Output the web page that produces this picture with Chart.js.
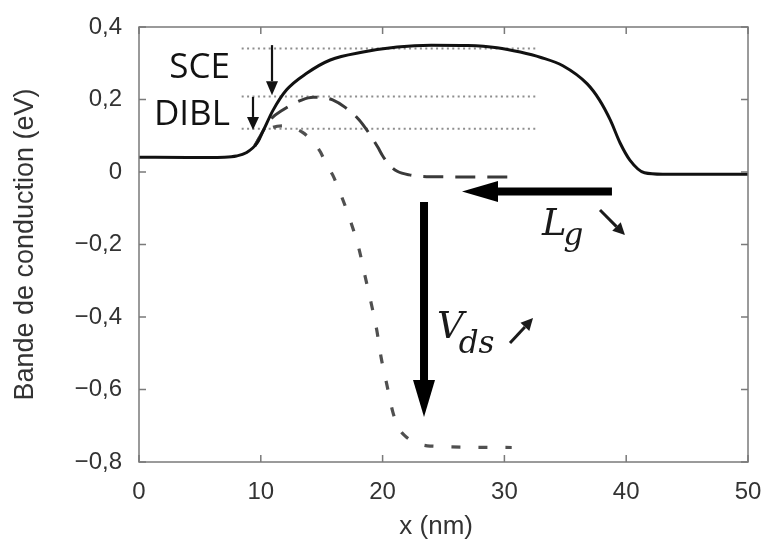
<!DOCTYPE html>
<html>
<head>
<meta charset="utf-8">
<script src="https://cdn.jsdelivr.net/npm/chart.js@4.4.1/dist/chart.umd.min.js"></script>
<style>
  html, body { margin: 0; padding: 0; background: #fff; }
  canvas { display: block; }
</style>
</head>
<body>
<canvas id="chart" width="768" height="546"></canvas>
<script>
// x positions (nm) and conduction band (eV)
const xSolid = [0, 4, 7, 8, 8.8, 9.7, 10.2, 11, 12.1, 13.8, 15.7, 18.4, 21.2, 24, 27, 29.4, 31.3, 33, 34.8, 36.8, 37.8, 38.7, 39.5, 40.3, 41.5, 43, 50];
const ySolid = [0.041, 0.040, 0.041, 0.044, 0.053, 0.080, 0.114, 0.170, 0.226, 0.273, 0.309, 0.331, 0.345, 0.350, 0.349, 0.343, 0.331, 0.316, 0.293, 0.243, 0.199, 0.143, 0.080, 0.033, -0.002, -0.006, -0.006];

const xLongDash = [9.5, 10.2, 10.8, 11.8, 13.4, 14.3, 15.2, 15.9, 16.9, 18.1, 18.7, 19.6, 20.0, 20.6, 21.2, 22.2, 23.9, 30.6];
const yLongDash = [0.072, 0.114, 0.145, 0.171, 0.199, 0.206, 0.205, 0.199, 0.179, 0.143, 0.116, 0.069, 0.045, 0.018, 0.002, -0.008, -0.013, -0.014];

const xShortDash = [9.5, 10.2, 11, 11.8, 12.4, 13.4, 14.3, 14.9, 15.4, 15.9, 16.64, 17.41, 18.06, 18.56, 19.05, 19.52, 19.87, 20.34, 20.83, 21.3, 21.84, 22.8, 23.9, 30.6];
const yShortDash = [0.072, 0.108, 0.123, 0.127, 0.124, 0.110, 0.083, 0.055, 0.019, -0.008, -0.068, -0.140, -0.212, -0.287, -0.360, -0.436, -0.510, -0.585, -0.661, -0.705, -0.728, -0.748, -0.756, -0.760];

// reference levels (dotted)
const refSpan = [8.43, 32.65];
const refLevels = [0.341, 0.208, 0.119];

const xTicks = [0, 10, 20, 30, 40, 50];
const yTicks = [-0.8, -0.6, -0.4, -0.2, 0, 0.2, 0.4];
const yTickLabels = ['\u22120,8', '\u22120,6', '\u22120,4', '\u22120,2', '0', '0,2', '0,4'];

const toPoints = (xs, ys) => xs.map((x, i) => ({ x: x, y: ys[i] }));

const datasets = [
  {
    data: toPoints(xSolid, ySolid),
    borderColor: '#111111',
    borderWidth: 3,
    cubicInterpolationMode: 'monotone'
  },
  {
    data: toPoints(xLongDash, yLongDash),
    borderColor: '#3a3a3a',
    borderWidth: 3,
    borderDash: [20, 12],
    cubicInterpolationMode: 'monotone'
  },
  {
    data: toPoints(xShortDash, yShortDash),
    borderColor: '#505050',
    borderWidth: 3.2,
    borderDash: [9, 18],
    cubicInterpolationMode: 'monotone'
  }
];
refLevels.forEach(level => {
  datasets.push({
    data: toPoints(refSpan, [level, level]),
    borderColor: '#8e8e8e',
    borderWidth: 2,
    borderDash: [2, 3.4],
    tension: 0
  });
});

function arrow(ctx, x1, y1, x2, y2, lw, headLen, headHalf) {
  const ang = Math.atan2(y2 - y1, x2 - x1);
  const bx = x2 - headLen * Math.cos(ang);
  const by = y2 - headLen * Math.sin(ang);
  ctx.lineWidth = lw;
  ctx.beginPath();
  ctx.moveTo(x1, y1);
  ctx.lineTo(bx, by);
  ctx.stroke();
  ctx.beginPath();
  ctx.moveTo(x2, y2);
  ctx.lineTo(bx + headHalf * Math.sin(ang), by - headHalf * Math.cos(ang));
  ctx.lineTo(bx - headHalf * Math.sin(ang), by + headHalf * Math.cos(ang));
  ctx.closePath();
  ctx.fill();
}

const decorations = {
  id: 'decorations',
  afterDraw(chart) {
    const ctx = chart.ctx;
    const a = chart.chartArea;
    const sx = chart.scales.x, sy = chart.scales.y;
    const px = v => sx.getPixelForValue(v);
    const py = v => sy.getPixelForValue(v);
    ctx.save();

    // frame with inward ticks on all sides
    ctx.strokeStyle = '#7a7a7a';
    ctx.lineWidth = 1.5;
    ctx.strokeRect(a.left, a.top, a.right - a.left, a.bottom - a.top);
    ctx.beginPath();
    xTicks.forEach(v => {
      const x = px(v);
      ctx.moveTo(x, a.bottom); ctx.lineTo(x, a.bottom - 7);
      ctx.moveTo(x, a.top); ctx.lineTo(x, a.top + 7);
    });
    yTicks.forEach(v => {
      const y = py(v);
      ctx.moveTo(a.left, y); ctx.lineTo(a.left + 7, y);
      ctx.moveTo(a.right, y); ctx.lineTo(a.right - 7, y);
    });
    ctx.stroke();

    // x axis title, drawn by hand to sit where the original does
    ctx.fillStyle = '#333';
    ctx.font = '26px "Liberation Sans"';
    ctx.textAlign = 'center';
    ctx.textBaseline = 'middle';
    ctx.fillText('x (nm)', px(24.4), 527);

    // SCE / DIBL
    ctx.fillStyle = '#121212';
    ctx.strokeStyle = '#121212';
    ctx.font = '35px "Open Sans"';
    ctx.textAlign = 'right';
    ctx.textBaseline = 'alphabetic';
    ctx.fillText('SCE', px(7.47), py(0.259));
    ctx.fillText('DIBL', px(7.47), py(0.130));
    arrow(ctx, px(10.92), py(0.350), px(10.92), py(0.212), 2.2, 14, 6);
    arrow(ctx, px(9.36), py(0.207), px(9.36), py(0.116), 2.2, 13, 6);

    // big arrows
    ctx.fillStyle = '#000';
    ctx.strokeStyle = '#000';
    arrow(ctx, px(38.83), py(-0.054), px(26.52), py(-0.054), 8, 36, 10.5);
    arrow(ctx, px(23.4), py(-0.083), px(23.4), py(-0.676), 8, 37, 11);

    // L_g and V_ds labels
    ctx.fillStyle = '#1a1a1a';
    ctx.strokeStyle = '#1a1a1a';
    ctx.textAlign = 'left';
    ctx.font = 'italic 37px "DejaVu Serif"';
    const lx = px(33.09), ly = py(-0.174);
    ctx.fillText('L', lx, ly);
    let w = ctx.measureText('L').width;
    ctx.font = 'italic 31px "DejaVu Serif"';
    ctx.fillText('g', lx + w - 3, ly + 10);
    arrow(ctx, px(37.85), py(-0.105), px(39.9), py(-0.174), 3, 12, 6);

    ctx.font = 'italic 37px "DejaVu Serif"';
    const vx = px(24.47), vy = py(-0.458);
    ctx.fillText('V', vx, vy);
    w = ctx.measureText('V').width;
    ctx.font = 'italic 31px "DejaVu Serif"';
    ctx.fillText('ds', vx + w - 5, vy + 15);
    arrow(ctx, px(30.46), py(-0.472), px(32.35), py(-0.403), 3, 12, 6);

    ctx.restore();
  }
};

new Chart(document.getElementById('chart'), {
  type: 'line',
  data: { datasets: datasets },
  options: {
    responsive: false,
    animation: false,
    devicePixelRatio: 1,
    layout: { padding: { left: 0, top: 27, right: 20, bottom: 0 } },
    elements: {
      point: { radius: 0 },
      line: { borderCapStyle: 'butt', fill: false }
    },
    plugins: {
      legend: { display: false },
      title: { display: false },
      tooltip: { enabled: false }
    },
    scales: {
      x: {
        type: 'linear',
        min: 0,
        max: 50,
        afterBuildTicks: scale => { scale.ticks = xTicks.map(v => ({ value: v })); },
        afterFit: scale => {
          scale.height = 84;
          scale.paddingLeft = 0;
          scale.paddingRight = 0;
        },
        grid: { display: false, drawTicks: false },
        border: { display: false },
        ticks: {
          padding: 16,
          color: '#333',
          font: { family: '"Liberation Sans"', size: 24 },
          callback: v => String(v)
        },
        title: { display: false }
      },
      y: {
        type: 'linear',
        min: -0.8,
        max: 0.4,
        afterBuildTicks: scale => { scale.ticks = yTicks.map(v => ({ value: v })); },
        afterFit: scale => {
          scale.width = 139;
          scale.paddingTop = 0;
          scale.paddingBottom = 0;
        },
        grid: { display: false, drawTicks: false },
        border: { display: false },
        ticks: {
          padding: 17,
          color: '#333',
          font: { family: '"Liberation Sans"', size: 24 },
          callback: (v, i) => yTickLabels[i]
        },
        title: {
          display: true,
          text: 'Bande de conduction (eV)',
          color: '#333',
          font: { family: '"Liberation Sans"', size: 27 },
          padding: { top: 9, bottom: 0 }
        }
      }
    }
  },
  plugins: [decorations]
});
</script>
</body>
</html>
